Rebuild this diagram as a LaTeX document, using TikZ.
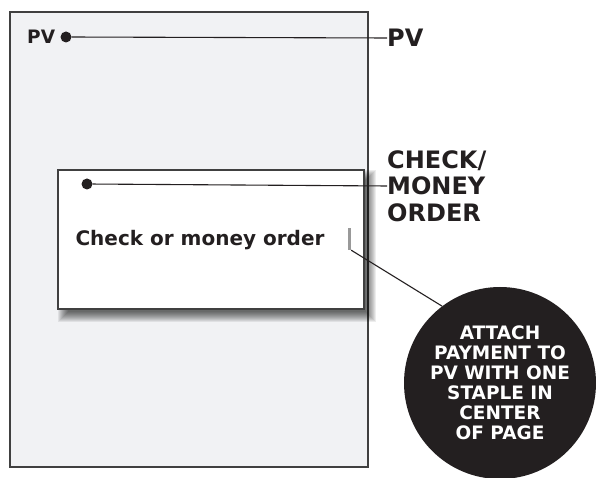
\documentclass[tikz,border=0pt]{standalone}
\usepackage{fontspec}
\setmainfont{DejaVu Sans}
\usetikzlibrary{positioning}
\definecolor{pagebg}{RGB}{241,242,244}
\definecolor{ink}{RGB}{35,31,32}

\begin{document}
\begin{tikzpicture}[x=1pt,y=1pt,
    dot/.style={circle,fill=ink,inner sep=0pt,minimum size=11pt},
    callout/.style={font=\bfseries\fontsize{24}{26.5}\selectfont,text=ink,align=left,inner sep=0pt},
    leader/.style={draw=ink,line width=1.1pt}]
  \useasboundingbox (0,0) rectangle (596,478);
  \clip (0,0) rectangle (596,478);
  % page
  \node[draw=black!75,line width=1.5pt,fill=pagebg,minimum width=358pt,minimum height=455pt,inner sep=0pt] (page) at (189,238.5) {};
  \node[dot] (pvdot) at (66,441) {};
  \node[left=5pt of pvdot,font=\bfseries\fontsize{18.5}{20}\selectfont,text=ink,inner sep=0pt] (pvtag) {PV};
  % blurred shadow of the payment
  \foreach \b in {0,...,10}
    \fill[black,opacity=0.07] (68-\b,166-\b) rectangle (366+\b,298+\b);
  \node[draw=black!75,line width=1.2pt,fill=white,minimum width=306pt,minimum height=139pt,inner sep=0pt] (payment) at (211,238.5) {};
  \node[dot] (checkdot) at (87,294) {};
  \node[font=\bfseries\fontsize{20}{22}\selectfont,text=ink] (checktext) at (200,238) {Check or money order};
  \node[fill=black!40,minimum width=3pt,minimum height=22pt,inner sep=0pt] (staple) at (349.5,239) {};
  % callouts
  \node[callout,anchor=west] (pvlabel) at (387,440) {PV};
  \node[callout,anchor=west] (checklabel) at (387,292) {CHECK/\\MONEY\\ORDER};
  \node[circle,fill=ink,minimum size=192pt,inner sep=0pt,text=white,align=center,
        font=\bfseries\fontsize{18.5}{20}\selectfont] (note) at (500,95)
        {ATTACH\\PAYMENT TO\\PV WITH ONE\\STAPLE IN\\CENTER\\OF PAGE};
  \draw[leader] (pvdot) -- (pvlabel.west);
  \draw[leader] (checkdot) -- (checklabel.west);
  \draw[leader] (staple.south east) -- (note.127);
\end{tikzpicture}
\end{document}
